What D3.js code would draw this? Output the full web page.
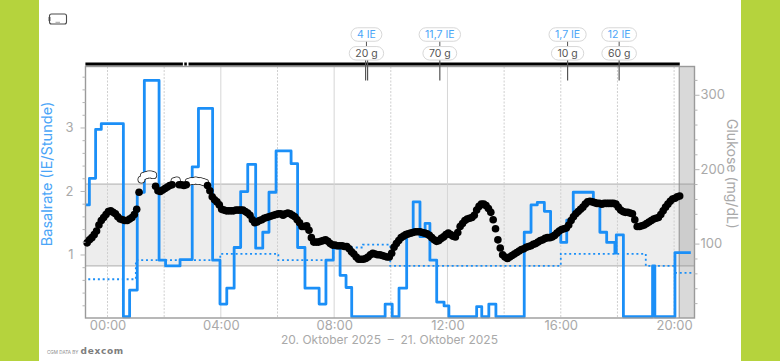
<!DOCTYPE html>
<html>
<head>
<meta charset="utf-8">
<script src="https://cdn.jsdelivr.net/npm/d3@7"></script>
<style>
  html, body { margin: 0; padding: 0; background: #fff; }
  svg { display: block; font-family: Inter, "Noto Sans", sans-serif; }
</style>
</head>
<body>
<div id="chart"></div>
<script>
// Hours relative to 00:00 on 21. Oktober (negative = evening before)
const xTickHours = [0, 4, 8, 12, 16, 20];
const xTickLabels = ["00:00", "04:00", "08:00", "12:00", "16:00", "20:00"];
const gridSolidHours = [4, 8, 12];
const gridDashedHours = [0, 2, 6, 10, 14, 16, 18, 20];

// Delivered basal, one value per step, stepHours has one more entry (the end)
const basalHours = [-0.78, -0.64, -0.42, -0.22, 0.56, 0.78, 1.05, 1.30, 1.82, 2.05, 2.56, 2.99, 3.21, 3.71, 3.97, 4.21, 4.47, 4.70, 4.95, 5.23, 5.48, 5.70, 5.95, 6.48, 6.71, 6.97, 7.47, 7.71, 7.97, 8.21, 8.42, 8.62, 9.80, 10.05, 10.29, 10.56, 10.79, 11.03, 11.21, 11.38, 11.62, 11.88, 12.05, 13.03, 13.21, 13.46, 13.71, 14.71, 14.95, 15.17, 15.42, 15.64, 16.0, 16.21, 16.44, 17.15, 17.38, 17.62, 17.91, 17.96, 18.21, 19.24, 19.32, 20.03, 20.59];
const basalValues = [1.78, 2.2, 2.97, 3.06, 0.02, 0.44, 1.98, 3.74, 0.91, 0.82, 0.92, 2.38, 3.30, 0.91, 0.22, 0.47, 1.11, 1.99, 2.42, 1.10, 1.35, 1.98, 2.63, 2.43, 1.11, 0.47, 0.22, 0.91, 1.10, 0.67, 0.48, 0.02, 0.22, 0.02, 0.47, 1.33, 1.83, 1.28, 1.49, 0.91, 0.25, 0.19, 0.02, 0.18, 0.02, 0.22, 0.02, 1.35, 1.78, 1.82, 1.68, 1.33, 1.19, 1.54, 1.98, 1.80, 1.35, 1.19, 1.02, 1.31, 0.02, 0.82, 0.02, 1.03];

// Scheduled basal (dotted)
const profileHours = [-0.68, 1.0, 3.98, 6.03, 7.97, 9.02, 9.98, 16.0, 19.0, 20.03, 20.72];
const profileValues = [0.61, 0.91, 1.01, 0.91, 1.11, 1.155, 0.82, 1.01, 0.82, 0.71];

// CGM readings, one every 5 minutes
const glucoseStart = -0.72;
const glucoseValues = [
  101, 105, 108, 112, 117, 125, 131, 135, 139, 143, 144, 142, 140, 136, 133, 132, 131, 131, 133, 135,
  139, 146, 169, 186, 191, 192, 193, 193, 192, 177, 171, 170, 172, 174, 176, 178, 179, 184, 185, 179,
  179, 178, 179, 183, 184, 184, 185, 184, 184, 183, 182, 178, 171, 163, 159, 156, 152, 146, 145, 144,
  144, 144, 144, 145, 145, 145, 145, 143, 141, 138, 132, 128, 129, 131, 132, 134, 135, 136, 137, 138,
  139, 140, 140, 138, 140, 141, 140, 138, 136, 132, 128, 123, 123, 124, 118, 108, 102, 102, 102, 103,
  104, 105, 103, 100, 98, 98, 97, 97, 97, 96, 96, 93, 89, 86, 82, 79, 79, 79, 80, 82,
  85, 87, 86, 85, 85, 84, 83, 82, 82, 87, 95, 100, 104, 108, 110, 112, 113, 114, 115, 116,
  116, 116, 115, 114, 113, 111, 108, 105, 103, 104, 107, 109, 112, 114, 112, 110, 109, 115, 123, 127,
  131, 133, 134, 135, 138, 145, 150, 153, 153, 151, 147, 142, 132, 120, 105, 94, 85, 82, 80, 82,
  84, 86, 88, 90, 92, 93, 95, 96, 97, 99, 100, 102, 104, 105, 107, 108, 108, 109, 111, 114,
  117, 119, 120, 121, 125, 131, 136, 140, 143, 146, 149, 153, 156, 157, 156, 155, 154, 154, 153, 154,
  154, 154, 154, 154, 153, 149, 145, 143, 142, 142, 141, 140, 132, 123, 123, 124, 125, 127, 129, 131,
  133, 134, 135, 139, 144, 149, 153, 157, 160, 161, 163, 164
];
const targetLow = 70, targetHigh = 180;

// Meals and boluses
const bolusHours = [9.11, 9.18, 11.73, 16.24, 18.06];
const mealHours = [9.14, 11.73, 16.24, 18.06];
const insulinLabels = ["4 IE", "11,7 IE", "1,7 IE", "12 IE"];
const carbLabels = ["20 g", "70 g", "10 g", "60 g"];

// Sensor status bar on top of the plot
const sensorSpans = [[-0.78, 2.66], [2.71, 2.80], [2.86, 20.2]];

const width = 780, height = 361;
const margin = {top: 66.5, right: 85.5, bottom: 43, left: 85.5};
const grey = "#a9a9a9", blue = "#1b8ff7";

const svg = d3.select("#chart").append("svg")
    .attr("width", width)
    .attr("height", height);

// green side panels
svg.append("rect").attr("width", 39).attr("height", height).attr("fill", "#b5d33d");
svg.append("rect").attr("x", 741).attr("width", 39).attr("height", height).attr("fill", "#b5d33d");

const x = d3.scaleLinear().domain([-0.777, 20.72]).range([margin.left, width - margin.right]);
const yBasal = d3.scaleLinear().domain([0, 3.96]).range([height - margin.bottom, margin.top]);
const yGlucose = d3.scaleLinear().domain([0, 338]).range([height - margin.bottom, margin.top]);

const plotH = yBasal.range()[0] - yBasal.range()[1];

// target range band
svg.append("rect")
    .attr("x", x.range()[0]).attr("width", x.range()[1] - x.range()[0])
    .attr("y", yGlucose(targetHigh)).attr("height", yGlucose(targetLow) - yGlucose(targetHigh))
    .attr("fill", "#ededed");
svg.selectAll(".target").data([targetLow, targetHigh]).join("line")
    .attr("x1", x.range()[0]).attr("x2", x.range()[1])
    .attr("y1", d => yGlucose(d)).attr("y2", d => yGlucose(d))
    .attr("stroke", "#adadad").attr("stroke-width", 1);

// grid lines
svg.selectAll(".gridSolid").data(gridSolidHours).join("line")
    .attr("x1", d => x(d)).attr("x2", d => x(d))
    .attr("y1", margin.top).attr("y2", margin.top + plotH)
    .attr("stroke", "#d6d6d6").attr("stroke-width", 1);
svg.selectAll(".gridDashed").data(gridDashedHours).join("line")
    .attr("x1", d => x(d)).attr("x2", d => x(d))
    .attr("y1", margin.top).attr("y2", margin.top + plotH)
    .attr("stroke", "#cfcfcf").attr("stroke-width", 1).attr("stroke-dasharray", "2,1.5");

// future zone at the right end
svg.append("rect")
    .attr("x", x(20.18)).attr("width", x.range()[1] - x(20.18))
    .attr("y", margin.top).attr("height", plotH)
    .attr("fill", "#8c8c8c").attr("fill-opacity", 0.33);
svg.append("line")
    .attr("x1", x(20.18)).attr("x2", x(20.18))
    .attr("y1", margin.top).attr("y2", margin.top + plotH)
    .attr("stroke", "#8e8e8e").attr("stroke-width", 1);

// dotted scheduled basal
const stepLine = d3.line().curve(d3.curveStepAfter).x(d => x(d[0])).y(d => yBasal(d[1]));
const profilePts = profileHours.map((h, i) => [h, i < profileValues.length ? profileValues[i] : profileValues[i - 1]]);
svg.append("path").attr("d", stepLine(profilePts))
    .attr("fill", "none").attr("stroke", blue).attr("stroke-width", 1.8).attr("stroke-dasharray", "2,2.8");

// delivered basal
const basalPts = basalHours.map((h, i) => [h, i < basalValues.length ? basalValues[i] : basalValues[i - 1]]);
svg.append("path").attr("d", stepLine(basalPts))
    .attr("fill", "none").attr("stroke", blue).attr("stroke-width", 2.8).attr("stroke-linejoin", "round");

// frame
svg.append("rect")
    .attr("x", x.range()[0]).attr("y", margin.top)
    .attr("width", x.range()[1] - x.range()[0]).attr("height", plotH)
    .attr("fill", "none").attr("stroke", "#9a9a9a").attr("stroke-width", 1.4);

// glucose dots, values above the target range are drawn white with an outline
const glucose = glucoseValues.map((v, i) => ({h: glucoseStart + i * 5 / 60, v: v}));
const high = glucose.filter(d => d.v > targetHigh);
const normal = glucose.filter(d => d.v <= targetHigh);
svg.selectAll(".highOutline").data(high).join("circle")
    .attr("cx", d => x(d.h)).attr("cy", d => yGlucose(d.v)).attr("r", 3.9).attr("fill", "#222");
svg.selectAll(".highFill").data(high).join("circle")
    .attr("cx", d => x(d.h)).attr("cy", d => yGlucose(d.v)).attr("r", 3.1).attr("fill", "#fff");
svg.selectAll(".normal").data(normal).join("circle")
    .attr("cx", d => x(d.h)).attr("cy", d => yGlucose(d.v)).attr("r", 3.8).attr("fill", "#000");

// sensor bar
svg.selectAll(".sensor").data(sensorSpans).join("line")
    .attr("x1", d => x(d[0])).attr("x2", d => x(d[1]))
    .attr("y1", 64).attr("y2", 64)
    .attr("stroke", "#000").attr("stroke-width", 3);

// bolus and meal stems
svg.selectAll(".bolusStem").data(bolusHours).join("line")
    .attr("x1", d => x(d)).attr("x2", d => x(d))
    .attr("y1", 60).attr("y2", 80.5)
    .attr("stroke", "#555").attr("stroke-width", 1.2);

const pillH = 13.5;
function addPill(g, label, cy, color) {
  const t = g.append("text").attr("y", cy + 3.7).attr("text-anchor", "middle")
      .attr("font-size", 10.5).attr("fill", color).text(label);
  const w = t.node().getComputedTextLength() + 12;
  g.insert("rect", "text")
      .attr("x", -w / 2).attr("y", cy - pillH / 2)
      .attr("width", w).attr("height", pillH).attr("rx", pillH / 2)
      .attr("fill", "#fff").attr("stroke", "#d8d8d8").attr("stroke-width", 1);
}
mealHours.forEach((h, i) => {
  const g = svg.append("g").attr("transform", `translate(${x(h)},0)`);
  g.append("line").attr("y1", 41).attr("y2", 47).attr("stroke", "#555").attr("stroke-width", 1);
  const top = g.append("g"), bottom = g.append("g");
  addPill(top, insulinLabels[i], 34.5, "#4aa5f7");
  addPill(bottom, carbLabels[i], 53.3, "#555");
});

// axes
const axisLeft = svg.append("g")
    .attr("transform", `translate(${margin.left},0)`)
    .call(d3.axisLeft(yBasal).tickValues(d3.range(0.2, 3.9, 0.2))
      .tickSize(3).tickPadding(9)
      .tickFormat(d => Math.abs(d - Math.round(d)) < 0.01 ? d3.format("d")(d) : ""));
axisLeft.select(".domain").remove();
axisLeft.selectAll(".tick line").attr("stroke", "#b5b5b5")
    .attr("x2", d => Math.abs(d - Math.round(d)) < 0.01 ? -5 : -3);
axisLeft.selectAll(".tick text").attr("fill", grey).attr("font-size", 13).attr("font-family", "Inter");

const axisRight = svg.append("g")
    .attr("transform", `translate(${width - margin.right},0)`)
    .call(d3.axisRight(yGlucose).tickValues(d3.range(20, 330, 20))
      .tickSize(3).tickPadding(3)
      .tickFormat(d => d % 100 === 0 ? d : ""));
axisRight.select(".domain").remove();
axisRight.selectAll(".tick line").attr("stroke", "#b5b5b5")
    .attr("x2", d => d % 100 === 0 ? 5 : 3);
axisRight.selectAll(".tick text").attr("fill", grey).attr("font-size", 13).attr("font-family", "Inter");

const axisBottom = svg.append("g")
    .attr("transform", `translate(0,${margin.top + plotH})`)
    .call(d3.axisBottom(x).tickValues(xTickHours).tickSize(0).tickPadding(3)
      .tickFormat((d, i) => xTickLabels[i]));
axisBottom.select(".domain").remove();
axisBottom.selectAll(".tick text").attr("fill", grey).attr("font-size", 13).attr("font-family", "Inter");

// axis titles
svg.append("text")
    .attr("transform", "translate(52,174) rotate(-90)")
    .attr("text-anchor", "middle").attr("font-size", 14.5).attr("fill", "#4aa5f7")
    .text("Basalrate (IE/Stunde)");
svg.append("text")
    .attr("transform", "translate(727,174) rotate(90)")
    .attr("text-anchor", "middle").attr("font-size", 14).attr("fill", grey)
    .text("Glukose (mg/dL)");
svg.append("text")
    .attr("x", 389.5).attr("y", 344).attr("text-anchor", "middle")
    .attr("font-size", 12).attr("fill", grey).attr("xml:space", "preserve")
    .text("20. Oktober 2025  –  21. Oktober 2025");

// dexcom note
svg.append("text").attr("x", 47).attr("y", 353.5)
    .attr("font-size", 4.6).attr("fill", "#8a8a8a").text("CGM DATA BY");
svg.append("text").attr("x", 80.5).attr("y", 353.5)
    .attr("font-size", 9).attr("font-weight", 700).attr("letter-spacing", 0.7)
    .attr("font-family", "DejaVu Sans").attr("fill", "#7d7d7d").text("dexcom");

// small device icon top left
const icon = svg.append("g").attr("fill", "none").attr("stroke", "#4a4a4a");
icon.append("rect").attr("x", 49.5).attr("y", 14).attr("width", 17).attr("height", 10)
    .attr("rx", 2).attr("stroke-width", 1.1);
icon.append("line").attr("x1", 49.5).attr("x2", 49.5).attr("y1", 17).attr("y2", 21).attr("stroke-width", 1.8);
icon.append("line").attr("x1", 55.5).attr("x2", 60).attr("y1", 22.3).attr("y2", 22.3)
    .attr("stroke", "#999").attr("stroke-width", 0.9);
</script>
</body>
</html>
